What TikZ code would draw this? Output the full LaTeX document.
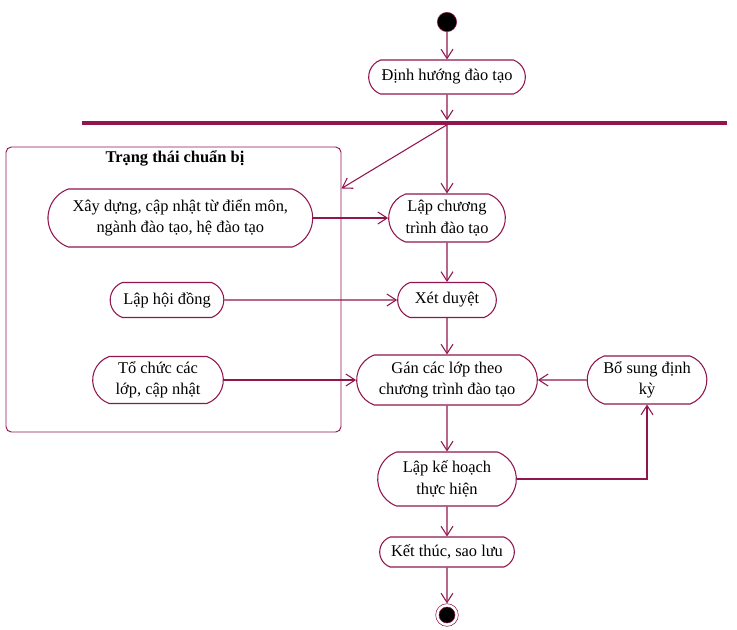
\documentclass[tikz,border=0pt]{standalone}
\usepackage{fontspec}
\setmainfont{Liberation Serif}
\usepackage{tikz}
\usetikzlibrary{positioning,shapes.misc,arrows.meta}

\definecolor{umlred}{RGB}{145,22,78}
\tikzset{
	action/.style={rounded rectangle, rounded rectangle arc length=140, draw=umlred, line width=0.8pt, fill=white,
		align=center, inner xsep=2pt, inner ysep=1pt,
		font=\fontsize{12.3}{16}\selectfont},
	flow/.style={draw=umlred, line width=0.8pt, -{Straight Barb[length=7pt,width=9pt,line width=0.8pt]}},
	partition/.style={draw=umlred, line width=0.7pt, rounded corners=4pt, minimum width=251.25pt, minimum height=213.75pt}
}

\begin{document}
\begin{tikzpicture}[x=0.75pt,y=-0.75pt,on grid]
			\useasboundingbox (0,0) rectangle (737,629);
			% swimlane
			\node[partition] (prep) at (173.5,289.5) {};
			\node[font=\fontsize{12.3}{15}\selectfont\bfseries] (preptitle) at (175,158) {Trạng thái chuẩn bị};
			% main column
			\node[circle, fill=black, draw=umlred, minimum size=14.5pt, inner sep=0pt] (start) at (447,22) {};
			\node[action, minimum width=121.5pt, minimum height=25.5pt] (dinh) [below=41.25pt of start] {Định hướng đào tạo};
			\node[fill=umlred, minimum width=483.75pt, minimum height=3pt, inner sep=0pt] (fork) at (404.5,122.5) {};
			\node[action, minimum width=91.5pt, minimum height=36pt] (lapct) [below=105.75pt of dinh] {Lập chương\\trình đào tạo};
			\node[action, minimum width=78pt, minimum height=26.25pt] (xet) [below=61.5pt of lapct] {Xét duyệt};
			\node[action, minimum width=139.5pt, minimum height=37.5pt] (gan) [below=60pt of xet] {Gán các lớp theo\\chương trình đào tạo};
			\node[action, minimum width=108pt, minimum height=40.5pt] (lapkh) [below=74.25pt of gan] {Lập kế hoạch\\thực hiện};
			\node[action, minimum width=105pt, minimum height=22.5pt] (ket) [below=54.75pt of lapkh] {Kết thúc, sao lưu};
			\node[circle, draw=umlred, minimum size=17pt, inner sep=0pt] (end) [below=47.25pt of ket] {};
			\node[circle, fill=black, draw=umlred, minimum size=12pt, inner sep=0pt] (enddot) at (end) {};
			\node[action, minimum width=93.75pt, minimum height=36pt] (bosung) [right=150pt of gan] {Bổ sung định\\kỳ};
			% left column
			\node[action, minimum width=202.5pt, minimum height=43.5pt] (xaydung) [left=200pt of lapct] {Xây dựng, cập nhật từ điển môn,\\ngành đào tạo, hệ đào tạo};
			\node[action, minimum width=89.25pt, minimum height=26.25pt] (laphd) [left=210pt of xet] {Lập hội đồng};
			\node[action, minimum width=102pt, minimum height=35.25pt] (tochuc) [left=216.75pt of gan] {Tổ chức các\\lớp, cập nhật};
			% connectors
			\path[flow] (start) -- (dinh);
			\path[flow] (dinh) -- (dinh |- fork.north);
			\path[flow] (fork.south -| lapct) -- (lapct);
			\path[flow] (fork.south -| lapct) -- (prep.east |- xaydung.north);
			\path[flow] (xaydung.east) -- (lapct.west);
			\path[flow] (laphd) -- (xet);
			\path[flow] (lapct) -- (xet);
			\path[flow] (xet) -- (gan);
			\path[flow, line width=1.2pt] (tochuc) -- (gan);
			\path[flow] (bosung) -- (gan);
			\path[flow] (gan) -- (lapkh);
			\path[flow] (lapkh.east) -| (bosung.south);
			\path[flow] (lapkh) -- (ket);
			\path[flow] (ket) -- (end);
		\end{tikzpicture}
\end{document}
